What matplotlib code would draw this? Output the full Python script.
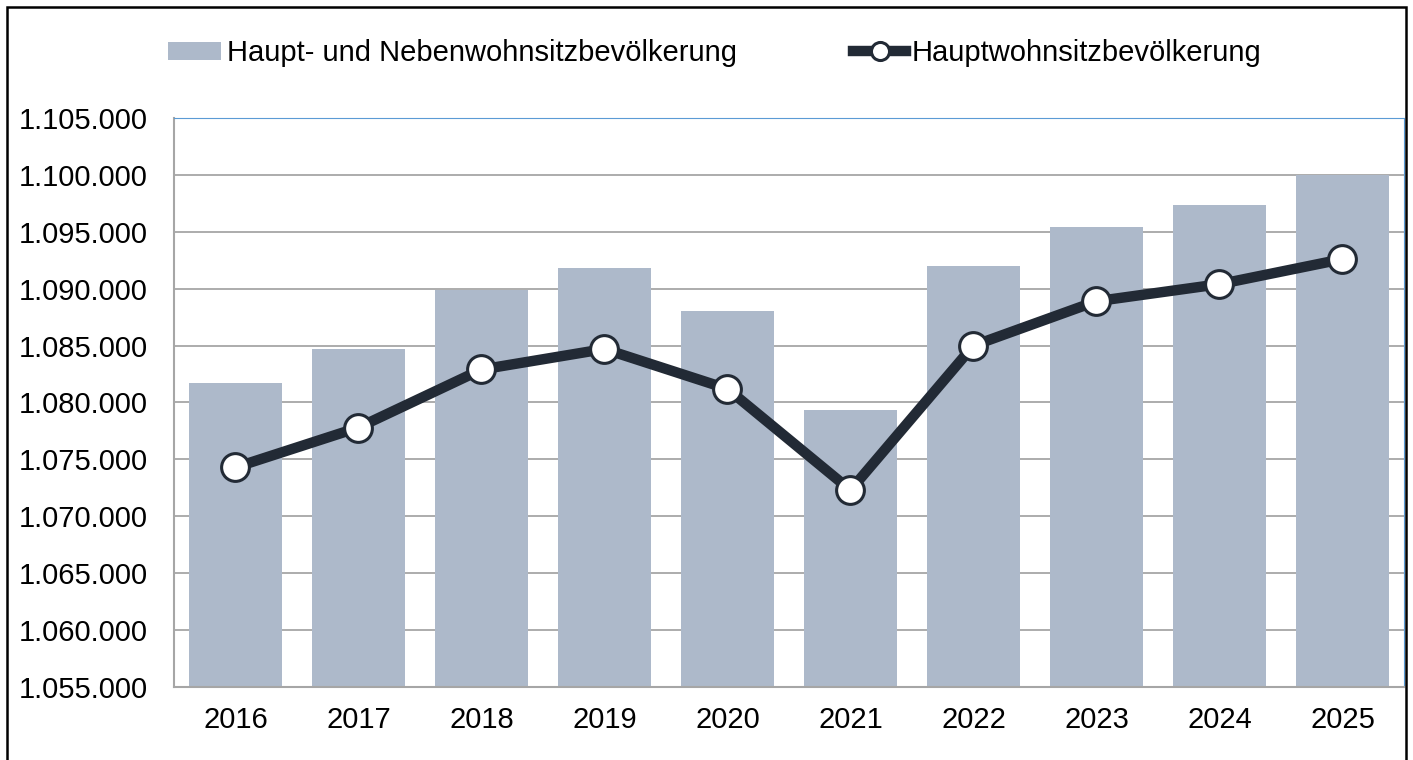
import matplotlib
matplotlib.use('Agg')
import matplotlib.pyplot as plt
from matplotlib.ticker import FuncFormatter, MultipleLocator
from matplotlib.patches import Rectangle

# Data
years = ['2016', '2017', '2018', '2019', '2020', '2021', '2022', '2023', '2024', '2025']
haupt_neben = [1081700, 1084700, 1089900, 1091800, 1088000, 1079300, 1092000, 1095400, 1097400, 1100000]
haupt = [1074300, 1077800, 1082900, 1084700, 1081200, 1072300, 1085000, 1088900, 1090400, 1092600]

plt.rcParams['font.family'] = ['Liberation Sans', 'DejaVu Sans']

fig = plt.figure(figsize=(14.13, 7.6), dpi=100)
ax = fig.add_axes([0.1231, 0.0961, 0.8705, 0.7486])

x = range(len(years))
bars = ax.bar(x, haupt_neben, width=0.76, color='#adb9ca', zorder=2,
              label='Haupt- und Nebenwohnsitzbevölkerung')
line, = ax.plot(x, haupt, color='#222a35', lw=7.5, marker='o', ms=20,
                mfc='white', mec='#222a35', mew=2.2, zorder=3,
                label='Hauptwohnsitzbevölkerung')

ax.set_xlim(-0.5, len(years) - 0.5)
ax.set_ylim(1055000, 1105000)
ax.yaxis.set_major_locator(MultipleLocator(5000))
ax.yaxis.set_major_formatter(FuncFormatter(lambda v, p: f'{int(v):,}'.replace(',', '.')))
ax.set_xticks(list(x))
ax.set_xticklabels(years)
ax.tick_params(axis='both', length=0, labelsize=21, colors='black')
ax.tick_params(axis='x', pad=14)
ax.tick_params(axis='y', pad=19)
ax.grid(axis='y', color='#a6a6a6', lw=1.3, zorder=0)

ax.spines['left'].set_color('#a6a6a6')
ax.spines['bottom'].set_color('#a6a6a6')
ax.spines['left'].set_linewidth(1.5)
ax.spines['bottom'].set_linewidth(1.5)
ax.spines['top'].set_color('#5b9bd5')
ax.spines['right'].set_color('#5b9bd5')

fig.legend(handles=[bars, line], loc='center', bbox_to_anchor=(0.506, 0.93), ncol=2,
           frameon=False, fontsize=21, handlelength=1.8, handletextpad=0.2,
           columnspacing=4.0, markerscale=0.65, handleheight=0.6)

# outer frame
fig.patches.append(Rectangle((7 / 1413, -0.05), 1399 / 1413, 1.05 - 7 / 760,
                             transform=fig.transFigure, fill=False,
                             edgecolor='black', lw=1.8))

fig.savefig('out.png', dpi=100)
